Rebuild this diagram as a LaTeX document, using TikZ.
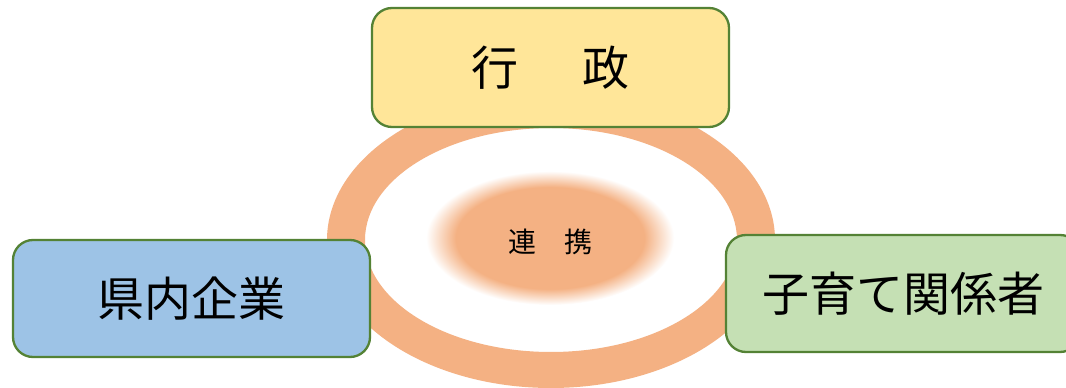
\documentclass[tikz,border=0pt]{standalone}
\usepackage{fontspec}
\newfontfamily\jp{Noto Sans CJK JP}
\definecolor{ringc}{HTML}{F4B183}
\definecolor{boxline}{HTML}{548235}
\definecolor{yel}{HTML}{FFE699}
\definecolor{blu}{HTML}{9DC3E6}
\definecolor{grn}{HTML}{C5E0B4}
\pgfdeclareradialshading{blob}{\pgfpoint{0bp}{0bp}}{color(0bp)=(ringc); color(19bp)=(ringc); color(25bp)=(white); color(50bp)=(white)}
\begin{document}
\begin{tikzpicture}[x=1pt,y=1pt,
  party/.style={draw=boxline, line width=2.3pt, rounded corners=20pt,
    inner sep=0pt, font=\jp\fontsize{47}{50}\selectfont, text=black}]
\useasboundingbox[fill=white] (0,0) rectangle (1066,388);
% ring
\fill[ringc, even odd rule] (551,148) ellipse [x radius=224, y radius=148]
                            (551,148) ellipse [x radius=186, y radius=112];
% blurred centre
\shade[shading=blob] (550,150) ellipse [x radius=124, y radius=67];
\node (renkei) at (550.5,146.5) {\jp\fontsize{28}{30}\selectfont 連\hspace{29pt}携};
% boxes
\node[party, fill=yel, minimum width=357pt, minimum height=119pt] (gyosei) at (550.5,320.5)
  {行\hspace{65pt}政};
\node[party, fill=blu, minimum width=357pt, minimum height=117pt] (kigyo) at (191.5,89.5)
  {県内企業};
\node[party, fill=grn, minimum width=354pt, minimum height=117pt] (kosodate) at (903,94.5)
  {子育て関係者};
\end{tikzpicture}
\end{document}
